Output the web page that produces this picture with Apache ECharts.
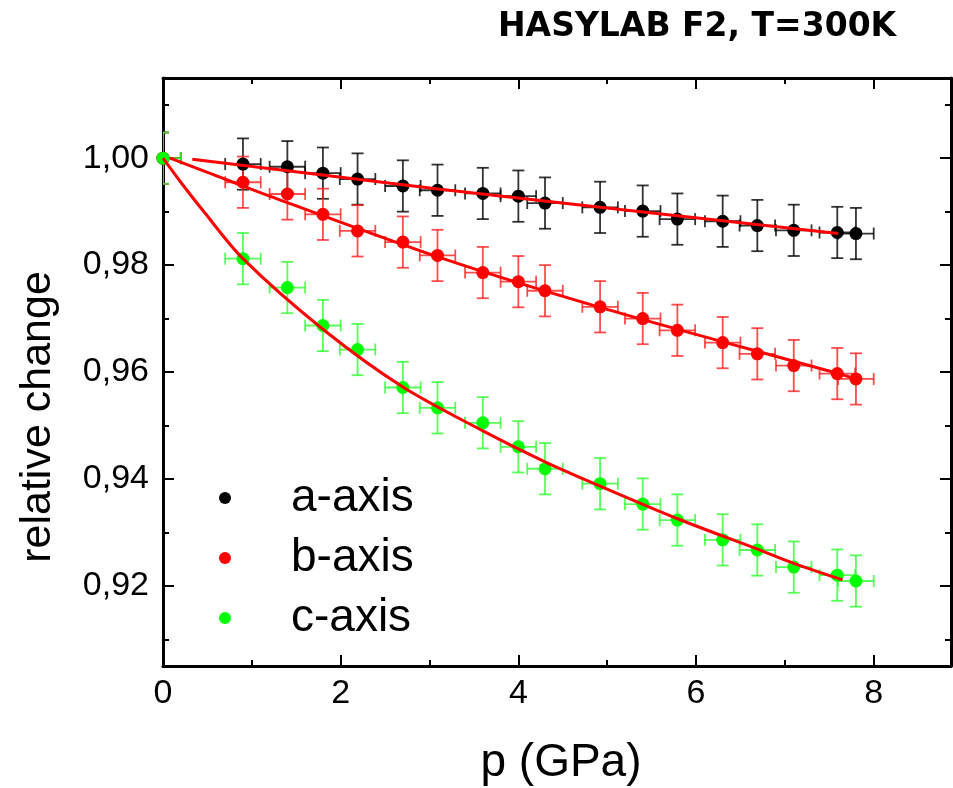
<!DOCTYPE html>
<html>
<head>
<meta charset="utf-8">
<script src="https://cdn.jsdelivr.net/npm/echarts@6/dist/echarts.min.js"></script>
<style>
html,body{margin:0;padding:0;background:#fff;}
#chart{width:953px;height:788px;}
</style>
</head>
<body>
<div id="chart"></div>
<script>
// ---- data ----
const pressure = [0, 0.9, 1.4, 1.8, 2.19, 2.7, 3.09, 3.6, 4.0, 4.3, 4.92, 5.4, 5.79, 6.3, 6.69, 7.1, 7.59, 7.8];
const aAxis = [1.0000, 0.9989, 0.9984, 0.9972, 0.9961, 0.9948, 0.9940, 0.9934, 0.9929, 0.9916, 0.9908, 0.9901, 0.9886, 0.9882, 0.9874, 0.9865, 0.9861, 0.9859];
const bAxis = [1.0000, 0.9955, 0.9933, 0.9895, 0.9864, 0.9843, 0.9818, 0.9786, 0.9769, 0.9752, 0.9722, 0.9700, 0.9678, 0.9655, 0.9634, 0.9612, 0.9597, 0.9587];
const cAxis = [1.0000, 0.9812, 0.9758, 0.9687, 0.9642, 0.9571, 0.9533, 0.9505, 0.9460, 0.9419, 0.9391, 0.9353, 0.9323, 0.9286, 0.9267, 0.9235, 0.9220, 0.9209];
const errP = 0.2;      // horizontal error (GPa)
const errV = 0.0048;   // vertical error

const fitAp = [0.33, 3.12, 4.92, 7.6];
const fitAv = [0.9998, 0.9942, 0.9908, 0.9859];
const fitBp = [0.08, 0.9, 1.2, 3.12, 4.92, 7.6, 7.8];
const fitBv = [1.0000, 0.9948, 0.9929, 0.9814, 0.9721, 0.9597, 0.9587];
const fitCp = [0, 0.2, 0.45, 0.9, 1.8, 2.7, 3.6, 4.3, 4.9, 5.8, 6.7, 7.1, 7.65];
const fitCv = [1.0000, 0.9955, 0.9902, 0.9812, 0.9680, 0.9572, 0.9490, 0.9432, 0.9388, 0.9325, 0.9268, 0.9242, 0.9211];

const xMajor = [0, 2, 4, 6, 8];
const xMinor = [1, 3, 5, 7];
const yMajor = [0.92, 0.94, 0.96, 0.98, 1.00];
const yMinor = [0.91, 0.93, 0.95, 0.97, 0.99, 1.01];

const seriesNames = ['a-axis', 'b-axis', 'c-axis'];
const titleText = 'HASYLAB F2, T=300K';
const xTitle = 'p (GPa)';
const yTitle = 'relative change';
// ---------------------------------------

const FONT = "'Liberation Sans', Arial, sans-serif";
const X_MIN = 0, X_MAX = 8.87, Y_MIN = 0.905, Y_MAX = 1.015;

function pairs(xs, ys) { return xs.map((x, i) => [x, ys[i]]); }

function axisX(pos, ticks, len, showLine, labels) {
  return {
    type: 'value', position: pos, min: X_MIN, max: X_MAX, gridIndex: 0,
    axisLine: { show: showLine, onZero: false, lineStyle: { color: '#000', width: 3 } },
    axisTick: { show: true, inside: true, length: len, customValues: ticks, lineStyle: { color: '#000', width: 2 } },
    axisLabel: labels ? { show: true, customValues: ticks, fontSize: 34, color: '#000', fontFamily: FONT, margin: 11 } : { show: false },
    splitLine: { show: false }
  };
}
function axisY(pos, ticks, len, showLine, labels) {
  return {
    type: 'value', position: pos, min: Y_MIN, max: Y_MAX, gridIndex: 0,
    axisLine: { show: showLine, onZero: false, lineStyle: { color: '#000', width: 3 } },
    axisTick: { show: true, inside: true, length: len, customValues: ticks, lineStyle: { color: '#000', width: 2 } },
    axisLabel: labels ? { show: true, customValues: ticks, fontSize: 34, color: '#000', fontFamily: FONT, margin: 14,
      formatter: v => v.toFixed(2).replace('.', ',') } : { show: false },
    splitLine: { show: false }
  };
}

function errorSeries(vals, color) {
  return {
    type: 'custom', xAxisIndex: 0, yAxisIndex: 0, clip: true, z: 2, silent: true,
    data: pairs(pressure, vals),
    renderItem: function (params, api) {
      const p = api.value(0), v = api.value(1);
      const c = api.coord([p, v]);
      const top = api.coord([p, v + errV]);
      const bot = api.coord([p, v - errV]);
      const lft = api.coord([p - errP, v]);
      const rgt = api.coord([p + errP, v]);
      const cap = 6;
      const style = { stroke: color, lineWidth: 1.8, opacity: 0.8 };
      const L = (x1, y1, x2, y2) => ({ type: 'line', shape: { x1, y1, x2, y2 }, style });
      return {
        type: 'group',
        children: [
          L(c[0], top[1], c[0], bot[1]),
          L(c[0] - cap, top[1], c[0] + cap, top[1]),
          L(c[0] - cap, bot[1], c[0] + cap, bot[1]),
          L(lft[0], c[1], rgt[0], c[1]),
          L(lft[0], c[1] - cap, lft[0], c[1] + cap),
          L(rgt[0], c[1] - cap, rgt[0], c[1] + cap)
        ]
      };
    }
  };
}

function scatterSeries(name, vals, color) {
  return { type: 'scatter', name, xAxisIndex: 0, yAxisIndex: 0, z: 3, symbol: 'circle', symbolSize: 13,
    itemStyle: { color, opacity: 1 }, data: pairs(pressure, vals) };
}
function fitSeries(xs, ys, smooth) {
  return { type: 'line', xAxisIndex: 0, yAxisIndex: 0, z: 4, showSymbol: false, symbol: 'none', silent: true,
    smooth: smooth,
    lineStyle: { color: '#ff0000', width: 3 }, data: pairs(xs, ys) };
}

const chart = echarts.init(document.getElementById('chart'), null, { renderer: 'canvas' });
chart.setOption({
  animation: false,
  backgroundColor: '#fff',
  title: {
    text: titleText, left: 493, top: 6,
    textStyle: { fontFamily: "'DejaVu Sans', sans-serif", fontWeight: 'bold', fontSize: 33, color: '#000' }
  },
  grid: { left: 163, top: 78, right: 2, bottom: 122, containLabel: false },
  xAxis: [
    axisX('bottom', xMajor, 11, true, true),
    axisX('bottom', xMinor, 6, false, false),
    axisX('top', xMajor, 11, true, false),
    axisX('top', xMinor, 6, false, false)
  ],
  yAxis: [
    axisY('left', yMajor, 11, true, true),
    axisY('left', yMinor, 6, false, false),
    axisY('right', yMajor, 11, true, false),
    axisY('right', yMinor, 6, false, false)
  ],
  legend: {
    data: seriesNames.map(n => ({ name: n, icon: 'circle' })),
    orient: 'vertical', left: 219, top: 475, padding: 0,
    itemWidth: 12, itemHeight: 12, itemGap: 14,
    textStyle: { fontFamily: FONT, fontSize: 46, color: '#000', lineHeight: 45, padding: [0, 0, 0, 55] },
    selectedMode: false
  },
  graphic: [
    { type: 'text', x: 561, y: 763, style: { text: xTitle, font: "46px 'Liberation Sans', Arial, sans-serif", fill: '#000', align: 'center', verticalAlign: 'middle' } },
    { type: 'text', x: 38, y: 417, rotation: Math.PI / 2, style: { text: yTitle, font: "43px 'Liberation Sans', Arial, sans-serif", fill: '#000', align: 'center', verticalAlign: 'middle' } }
  ],
  series: [
    errorSeries(aAxis, '#000000'),
    errorSeries(bAxis, '#ff2020'),
    errorSeries(cAxis, '#30ff30'),
    scatterSeries(seriesNames[0], aAxis, '#000000'),
    scatterSeries(seriesNames[1], bAxis, '#ff0000'),
    scatterSeries(seriesNames[2], cAxis, '#00ff00'),
    fitSeries(fitAp, fitAv, false),
    fitSeries(fitBp, fitBv, 0.3),
    fitSeries(fitCp, fitCv, 0.3)
  ]
});
</script>
</body>
</html>
